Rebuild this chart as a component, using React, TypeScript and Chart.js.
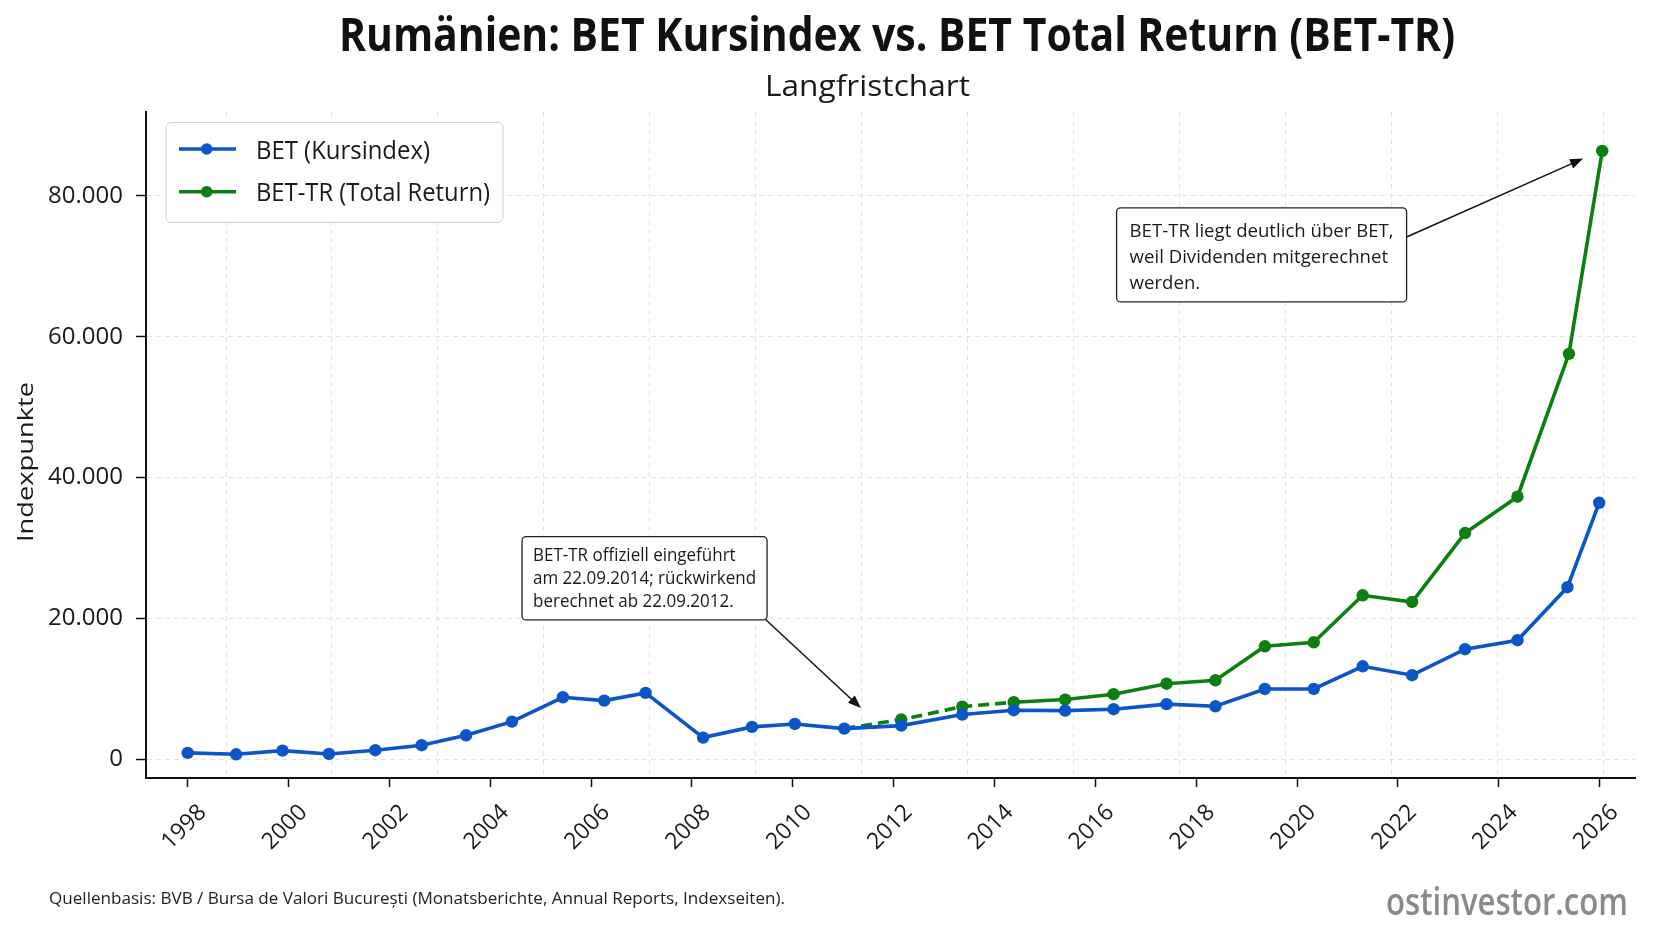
import React, { useEffect, useRef } from 'react';
import { Chart, registerables } from 'chart.js';

Chart.register(...registerables);

// ---------------- data ----------------
const betYears = [
  1998.0, 1998.96, 1999.88, 2000.8, 2001.72, 2002.64, 2003.52, 2004.43, 2005.44, 2006.26,
  2007.08, 2008.22, 2009.19, 2010.04, 2011.02, 2012.15, 2013.36, 2014.38, 2015.4, 2016.36,
  2017.41, 2018.38, 2019.36, 2020.33, 2021.3, 2022.28, 2023.33, 2024.37, 2025.36, 2025.99,
];
const betValues = [
  900, 700, 1220, 750, 1280, 1990, 3400, 5340, 8800, 8320,
  9420, 3070, 4590, 5010, 4350, 4770, 6340, 6960, 6900, 7100,
  7820, 7520, 9980, 9980, 13200, 11930, 15620, 16900, 24430, 36420,
];
const trYears = [
  2011.02, 2012.15, 2013.36, 2014.38, 2015.4, 2016.36, 2017.41, 2018.38,
  2019.36, 2020.33, 2021.3, 2022.28, 2023.33, 2024.37, 2025.39, 2026.05,
];
const trValues = [
  4350, 5630, 7470, 8090, 8470, 9230, 10720, 11210,
  16040, 16610, 23280, 22330, 32120, 37280, 57570, 86390,
];
// number of leading TR segments that are back-calculated (dashed)
const trBackfillSegments = 3;

const xTickYears = [1998, 2000, 2002, 2004, 2006, 2008, 2010, 2012, 2014, 2016, 2018, 2020, 2022, 2024, 2026];
const yTickValues = [0, 20000, 40000, 60000, 80000];

const seriesLabels = ['BET (Kursindex)', 'BET-TR (Total Return)'];
const titleText = 'Rumänien: BET Kursindex vs. BET Total Return (BET-TR)';
const subtitleText = 'Langfristchart';
const yAxisTitle = 'Indexpunkte';
const sourceText = 'Quellenbasis: BVB / Bursa de Valori București (Monatsberichte, Annual Reports, Indexseiten).';
const watermarkText = 'ostinvestor.com';

const note1Lines = ['BET-TR offiziell eingeführt', 'am 22.09.2014; rückwirkend', 'berechnet ab 22.09.2012.'];
const note1Box = { x: 2004.63, y: 31610 }; // top-left of text box (data coords)
const note1Tip = { x: 2011.35, y: 7265 };
const note2Lines = ['BET-TR liegt deutlich über BET,', 'weil Dividenden mitgerechnet', 'werden.'];
const note2Box = { x: 2016.42, y: 78300 };
const note2Tip = { x: 2025.67, y: 85300 };

// ---------------- styling ----------------
const FONT = '"Open Sans", "Noto Sans", "DejaVu Sans", sans-serif';
const BLUE = '#0a56c8';
const GREEN = '#0b800f';
const INK = '#1a1a1a';
const GRID = '#e3e3e3';
const LINE_W = 3.6;
const DOT_R = 6.2;

const X_MIN = 1997.173;
const X_MAX = 2026.7;
const Y_MIN = -2668;
const Y_MAX = 91920;

const fmtDe = (v: number) => String(Math.round(v)).replace(/\B(?=(\d{3})+(?!\d))/g, '.');

function drawFit(
  ctx: CanvasRenderingContext2D,
  text: string,
  x: number,
  y: number,
  font: string,
  targetW: number,
  align: 'left' | 'center' | 'right',
  color: string
) {
  ctx.save();
  ctx.font = font;
  ctx.fillStyle = color;
  ctx.textBaseline = 'alphabetic';
  ctx.textAlign = 'left';
  const w = ctx.measureText(text).width || 1;
  const s = targetW / w;
  const x0 = align === 'left' ? x : align === 'center' ? x - targetW / 2 : x - targetW;
  ctx.translate(x0, y);
  ctx.scale(s, 1);
  ctx.fillText(text, 0, 0);
  ctx.restore();
}

function arrow(ctx: CanvasRenderingContext2D, x1: number, y1: number, x2: number, y2: number) {
  const ang = Math.atan2(y2 - y1, x2 - x1);
  const hl = 13;
  const hw = 5;
  ctx.save();
  ctx.strokeStyle = '#111';
  ctx.fillStyle = '#111';
  ctx.lineWidth = 1.5;
  ctx.beginPath();
  ctx.moveTo(x1, y1);
  ctx.lineTo(x2 - Math.cos(ang) * hl * 0.8, y2 - Math.sin(ang) * hl * 0.8);
  ctx.stroke();
  ctx.beginPath();
  ctx.moveTo(x2, y2);
  ctx.lineTo(x2 - Math.cos(ang) * hl - Math.sin(ang) * hw, y2 - Math.sin(ang) * hl + Math.cos(ang) * hw);
  ctx.lineTo(x2 - Math.cos(ang) * hl + Math.sin(ang) * hw, y2 - Math.sin(ang) * hl - Math.cos(ang) * hw);
  ctx.closePath();
  ctx.fill();
  ctx.restore();
}

function noteBox(
  ctx: CanvasRenderingContext2D,
  lines: string[],
  left: number,
  top: number,
  fontSize: number,
  lineH: number,
  padX: number,
  firstBase: number,
  padBottom: number,
  widestTarget: number
) {
  const font = `${fontSize}px ${FONT}`;
  ctx.save();
  ctx.font = font;
  const widths = lines.map((l) => ctx.measureText(l).width);
  const maxW = Math.max(...widths);
  const s = widestTarget / maxW;
  const w = widestTarget + padX * 2;
  const h = firstBase + lineH * (lines.length - 1) + padBottom;
  ctx.beginPath();
  ctx.roundRect(left, top, w, h, 4);
  ctx.fillStyle = '#ffffff';
  ctx.fill();
  ctx.lineWidth = 1.3;
  ctx.strokeStyle = '#222';
  ctx.stroke();
  ctx.restore();
  lines.forEach((l, i) => {
    drawFit(ctx, l, left + padX, top + firstBase + i * lineH, font, widths[i] * s, 'left', INK);
  });
  return { w, h };
}

const decorPlugin = {
  id: 'decor',
  afterDraw(chart: any) {
    const ctx: CanvasRenderingContext2D = chart.ctx;
    const xs = chart.scales.x;
    const ys = chart.scales.y;
    const area = chart.chartArea;

    // Title & subtitle
    drawFit(ctx, titleText, 339, 51, `bold 47px ${FONT}`, 1116, 'left', '#111');
    drawFit(ctx, subtitleText, 765, 96, `30px ${FONT}`, 205, 'left', INK);

    // Y axis title (rotated)
    ctx.save();
    ctx.translate(33, (area.top + area.bottom) / 2 + 17);
    ctx.rotate(-Math.PI / 2);
    drawFit(ctx, yAxisTitle, 0, 0, `22px ${FONT}`, 160, 'center', INK);
    ctx.restore();

    // Legend
    ctx.save();
    ctx.beginPath();
    ctx.roundRect(166, 122.5, 337, 100, 5);
    ctx.fillStyle = 'rgba(255,255,255,0.92)';
    ctx.fill();
    ctx.lineWidth = 1;
    ctx.strokeStyle = '#cfcfcf';
    ctx.stroke();
    ctx.restore();
    const legendRows = [
      { label: seriesLabels[0], color: BLUE, y: 149, w: 174 },
      { label: seriesLabels[1], color: GREEN, y: 191.7, w: 234 },
    ];
    legendRows.forEach((r) => {
      ctx.save();
      ctx.strokeStyle = r.color;
      ctx.lineWidth = LINE_W;
      ctx.beginPath();
      ctx.moveTo(179, r.y);
      ctx.lineTo(236, r.y);
      ctx.stroke();
      ctx.fillStyle = r.color;
      ctx.beginPath();
      ctx.arc(206.7, r.y, DOT_R - 0.4, 0, Math.PI * 2);
      ctx.fill();
      ctx.restore();
      drawFit(ctx, r.label, 256, r.y + 9.5, `25px ${FONT}`, r.w, 'left', INK);
    });

    // Annotation 1
    const b1x = xs.getPixelForValue(note1Box.x);
    const b1y = ys.getPixelForValue(note1Box.y);
    const n1 = noteBox(ctx, note1Lines, b1x, b1y, 17.5, 23.3, 11, 24, 12.7, 223);
    arrow(ctx, b1x + n1.w - 2, b1y + n1.h - 1, xs.getPixelForValue(note1Tip.x), ys.getPixelForValue(note1Tip.y));

    // Annotation 2
    const b2x = xs.getPixelForValue(note2Box.x);
    const b2y = ys.getPixelForValue(note2Box.y);
    const n2 = noteBox(ctx, note2Lines, b2x, b2y, 19, 26.15, 13, 29, 12.7, 264);
    arrow(ctx, b2x + n2.w, b2y + n2.h * 0.31, xs.getPixelForValue(note2Tip.x), ys.getPixelForValue(note2Tip.y));

    // Footer
    drawFit(ctx, sourceText, 49, 904, `16.5px ${FONT}`, 736, 'left', '#222');
    drawFit(ctx, watermarkText, 1628, 915, `600 38px ${FONT}`, 242, 'right', '#8a8a8a');
  },
};

export default function App() {
  const canvasRef = useRef<HTMLCanvasElement | null>(null);

  useEffect(() => {
    let chart: Chart | null = null;
    let cancelled = false;
    const build = () => {
      if (cancelled || !canvasRef.current) return;
      const betData = betYears.map((x, i) => ({ x, y: betValues[i] }));
      const trData = trYears.map((x, i) => ({ x, y: trValues[i] }));
      chart = new Chart(canvasRef.current, {
        type: 'line',
        data: {
          datasets: [
            {
              label: seriesLabels[0],
              data: betData,
              xAxisID: 'x',
              yAxisID: 'y',
              borderColor: BLUE,
              backgroundColor: BLUE,
              borderWidth: LINE_W,
              pointRadius: DOT_R,
              pointBorderWidth: 0,
              pointBackgroundColor: BLUE,
              tension: 0,
            },
            {
              label: seriesLabels[1],
              data: trData,
              xAxisID: 'x',
              yAxisID: 'y',
              borderColor: GREEN,
              backgroundColor: GREEN,
              borderWidth: LINE_W,
              pointRadius: trYears.map((_, i) => (i === 0 ? 0 : DOT_R)),
              pointBorderWidth: 0,
              pointBackgroundColor: GREEN,
              tension: 0,
              segment: {
                borderDash: (c: any) => (c.p0DataIndex < trBackfillSegments ? [11, 6] : undefined),
              },
            },
          ],
        },
        options: {
          animation: false,
          responsive: true,
          maintainAspectRatio: false,
          layout: { padding: { top: 112, right: 37, left: 0, bottom: 0 } },
          plugins: {
            legend: { display: false },
            title: { display: false },
            tooltip: { enabled: false },
          },
          scales: {
            x: {
              type: 'linear',
              position: 'bottom',
              min: X_MIN,
              max: X_MAX,
              afterFit: (s: any) => {
                s.height = 163;
              },
              afterBuildTicks: (s: any) => {
                s.ticks = xTickYears.map((v) => ({ value: v }));
              },
              grid: {
                display: true,
                drawOnChartArea: false,
                drawTicks: true,
                tickLength: 9,
                tickColor: '#111',
                tickWidth: 1.5,
              },
              border: { display: true, color: '#111', width: 2 },
              ticks: {
                autoSkip: false,
                maxRotation: 45,
                minRotation: 45,
                padding: 12,
                labelOffset: 15,
                color: INK,
                font: { family: FONT, size: 23 },
                callback: (v: any) => String(v),
              },
            },
            xg: {
              type: 'linear',
              position: 'bottom',
              min: -0.7553,
              max: 13.302,
              afterFit: (s: any) => {
                s.height = 0;
              },
              ticks: { display: false, stepSize: 1, includeBounds: false },
              grid: { display: true, drawTicks: false, color: GRID, lineWidth: 1 },
              border: { display: false, dash: [5, 4] },
            },
            y: {
              type: 'linear',
              min: Y_MIN,
              max: Y_MAX,
              afterFit: (s: any) => {
                s.width = 146;
              },
              afterBuildTicks: (s: any) => {
                s.ticks = yTickValues.map((v) => ({ value: v }));
              },
              grid: {
                color: GRID,
                lineWidth: 1,
                tickColor: '#111',
                tickLength: 10,
                tickWidth: 1.5,
                tickBorderDash: [],
              },
              border: { display: true, color: '#111', width: 2, dash: [5, 4] },
              ticks: {
                padding: 13,
                color: INK,
                font: { family: FONT, size: 24 },
                callback: (v: any) => fmtDe(Number(v)),
              },
            },
          },
        },
        plugins: [decorPlugin],
      } as any);
    };
    const fonts = (document as any).fonts;
    if (fonts && fonts.load) {
      Promise.all([
        fonts.load(`24px "Open Sans"`),
        fonts.load(`bold 46px "Open Sans"`),
        fonts.load(`600 38px "Open Sans"`),
      ])
        .catch(() => null)
        .then(build);
    } else {
      build();
    }
    return () => {
      cancelled = true;
      if (chart) chart.destroy();
    };
  }, []);

  return (
    <div style={{ position: 'fixed', left: 0, top: 0, width: 1672, height: 941, background: '#ffffff' }}>
      <canvas ref={canvasRef} />
    </div>
  );
}
